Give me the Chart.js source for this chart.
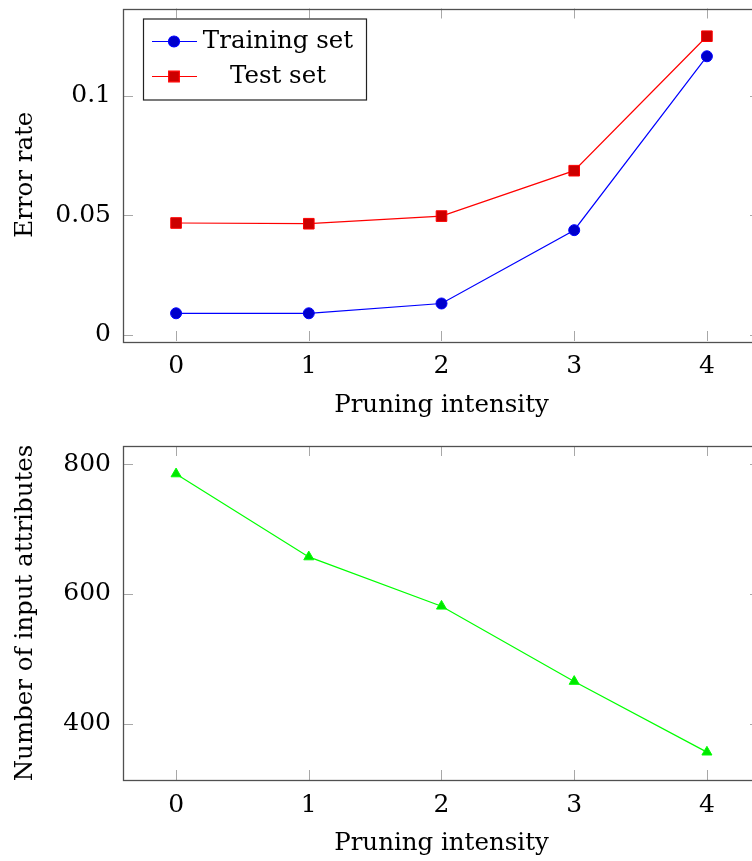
<!DOCTYPE html>
<html><head><meta charset="utf-8">
<script src="https://cdn.jsdelivr.net/npm/chart.js@4/dist/chart.umd.min.js"></script>
<style>
html,body{margin:0;padding:0;background:#fff;overflow:hidden;width:752px;height:861px;position:relative}
#c1{position:absolute;left:0;top:0}
#c2{position:absolute;left:0;top:430px}
</style></head><body>
<canvas id="c1" width="780" height="430" style="width:780px;height:430px"></canvas>
<canvas id="c2" width="780" height="431" style="width:780px;height:431px"></canvas>
<script>
// ---- data ----
const pruningIntensity = [0, 1, 2, 3, 4];
const trainingError = [0.0089, 0.0089, 0.0130, 0.0437, 0.1165];
const testError = [0.0467, 0.0464, 0.0496, 0.0686, 0.1249];
const inputAttributes = [785, 657, 581, 465, 356];
const xTickValues = [0, 1, 2, 3, 4];
const errorTickValues = [0, 0.05, 0.1];
const attrTickValues = [400, 600, 800];

const FONT = 'DejaVu Serif';
const FS = 24.5;   // titles & legend
const TFS = 25;    // tick labels
Chart.defaults.font.family = FONT;
Chart.defaults.font.size = FS;
Chart.defaults.color = '#000';

function pts(xs, ys) { return xs.map((x, i) => ({x: x, y: ys[i]})); }

const framePlugin = {
  id: 'frame',
  beforeDatasetsDraw(chart) {
    const {ctx, chartArea: a, scales} = chart;
    const L = 10;
    ctx.save();
    ctx.lineWidth = 1;
    ctx.strokeStyle = '#a8a8a8';
    ctx.beginPath();
    scales.x.ticks.forEach(t => {
      const px = Math.round(scales.x.getPixelForValue(t.value)) + 0.5;
      ctx.moveTo(px, a.bottom); ctx.lineTo(px, a.bottom - L);
      ctx.moveTo(px, a.top); ctx.lineTo(px, a.top + L);
    });
    scales.y.ticks.forEach(t => {
      const py = Math.round(scales.y.getPixelForValue(t.value)) + 0.5;
      ctx.moveTo(a.left, py); ctx.lineTo(a.left + L, py);
      ctx.moveTo(a.right, py); ctx.lineTo(a.right - L, py);
    });
    ctx.stroke();
    ctx.strokeStyle = '#505050';
    ctx.lineWidth = 1.3;
    ctx.strokeRect(Math.round(a.left) + 0.5, Math.round(a.top) + 0.5,
                   Math.round(a.right - a.left), Math.round(a.bottom - a.top));
    ctx.restore();
  }
};

const legendPlugin = {
  id: 'pgfLegend',
  afterDraw(chart, args, opts) {
    if (!opts || !opts.show) return;
    const {ctx, chartArea: a} = chart;
    const bx = a.left + 20, by = a.top + 10, bw = 223, bh = 81;
    ctx.save();
    ctx.fillStyle = '#fff';
    ctx.fillRect(bx, by, bw, bh);
    ctx.strokeStyle = '#222';
    ctx.lineWidth = 1.2;
    ctx.strokeRect(bx + 0.5, by + 0.5, bw, bh);
    const rowsY = [by + 23, by + 58];
    chart.data.datasets.forEach((ds, i) => {
      const y = rowsY[i];
      ctx.strokeStyle = ds.borderColor;
      ctx.lineWidth = 1.2;
      ctx.beginPath();
      ctx.moveTo(bx + 9, y); ctx.lineTo(bx + 54, y);
      ctx.stroke();
      ctx.fillStyle = ds.pointBackgroundColor;
      ctx.strokeStyle = ds.pointBorderColor;
      Chart.helpers.drawPoint(ctx, {pointStyle: ds.pointStyle, radius: ds.pointRadius, borderWidth: 1}, bx + 31, y);
      ctx.fillStyle = '#000';
      ctx.font = FS + 'px "' + FONT + '"';
      ctx.textAlign = 'center';
      ctx.textBaseline = 'middle';
      ctx.fillText(ds.label, bx + 135, y);
    });
    ctx.restore();
  }
};

function xScale(h, titleOffsetPad) {
  return {
    type: 'linear', min: -0.4, max: 4.4,
    afterBuildTicks: s => { s.ticks = xTickValues.map(v => ({value: v})); },
    afterFit: s => { s.height = h; s.paddingLeft = 0; s.paddingRight = 0; },
    grid: {display: false, drawTicks: false, tickLength: 0}, border: {display: false},
    ticks: {autoSkip: false, maxRotation: 0, padding: 10, callback: v => String(v), font: {size: TFS, lineHeight: 1.2}},
    title: {display: true, text: 'Pruning intensity', font: {size: FS, lineHeight: 1.2}, padding: {top: 0, bottom: titleOffsetPad}}
  };
}
function yScale(min, max, tickVals, title) {
  return {
    type: 'linear', min: min, max: max,
    afterBuildTicks: s => { s.ticks = tickVals.map(v => ({value: v})); },
    afterFit: s => { s.width = 123; s.paddingTop = 0; s.paddingBottom = 0; },
    grid: {display: false, drawTicks: false, tickLength: 0}, border: {display: false},
    ticks: {autoSkip: false, padding: 12, callback: v => String(v), font: {size: TFS, lineHeight: 1.2}},
    title: {display: true, text: title, font: {size: FS, lineHeight: 1.2}, padding: {top: 10.5, bottom: 0}}
  };
}

new Chart(document.getElementById('c1'), {
  type: 'line',
  data: {
    datasets: [
      {label: 'Training set', data: pts(pruningIntensity, trainingError),
       borderColor: '#0000ff', borderWidth: 1.2, pointStyle: 'circle', pointRadius: 5.5,
       pointBackgroundColor: '#0000cc', pointBorderColor: '#0000ff', pointBorderWidth: 1, tension: 0, fill: false},
      {label: 'Test set', data: pts(pruningIntensity, testError),
       borderColor: '#ff0000', borderWidth: 1.2, pointStyle: 'rect', pointRadius: 7.5,
       pointBackgroundColor: '#cc0000', pointBorderColor: '#ff0000', pointBorderWidth: 1, tension: 0, fill: false}
    ]
  },
  options: {
    responsive: false, animation: false, devicePixelRatio: 1,
    layout: {padding: {top: 7, right: 20, left: 0, bottom: 0}},
    plugins: {legend: {display: false}, tooltip: {enabled: false}, pgfLegend: {show: true}},
    scales: {
      x: xScale(89, 9.5),
      y: yScale(-0.0027, 0.1365, errorTickValues, 'Error rate')
    }
  },
  plugins: [framePlugin, legendPlugin]
});

new Chart(document.getElementById('c2'), {
  type: 'line',
  data: {
    datasets: [
      {label: 'Number of input attributes', data: pts(pruningIntensity, inputAttributes),
       borderColor: '#00ff00', borderWidth: 1.2, pointStyle: 'triangle', pointRadius: 5.8,
       pointBackgroundColor: '#00e600', pointBorderColor: '#00ff00', pointBorderWidth: 1, tension: 0, fill: false}
    ]
  },
  options: {
    responsive: false, animation: false, devicePixelRatio: 1,
    layout: {padding: {top: 16, right: 20, left: 0, bottom: 0}},
    plugins: {legend: {display: false}, tooltip: {enabled: false}, pgfLegend: {show: false}},
    scales: {
      x: xScale(81, 2.5),
      y: yScale(313, 828, attrTickValues, 'Number of input attributes')
    }
  },
  plugins: [framePlugin, legendPlugin]
});
</script>
</body></html>
